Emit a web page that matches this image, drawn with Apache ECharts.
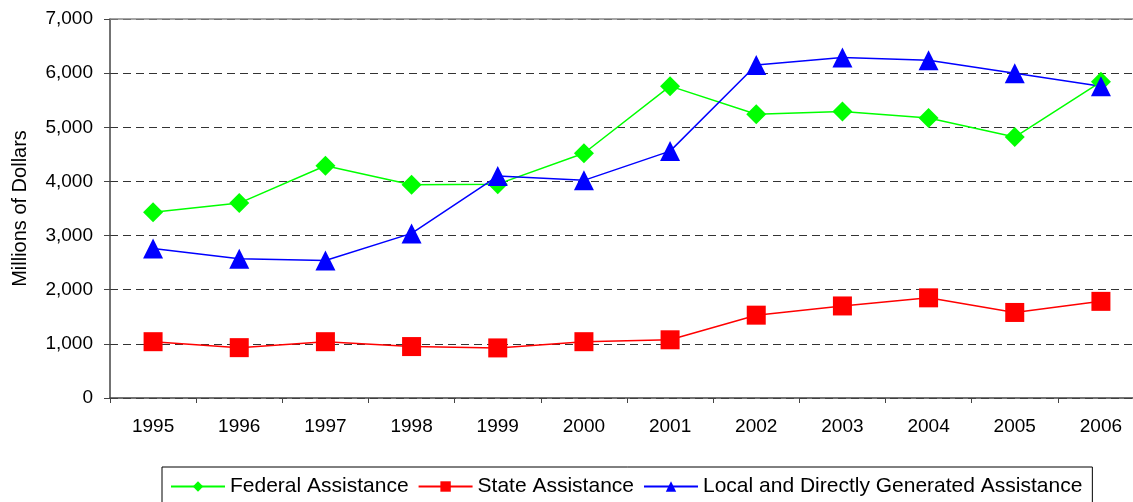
<!DOCTYPE html>
<html>
<head>
<meta charset="utf-8">
<script src="https://cdn.jsdelivr.net/npm/echarts@6/dist/echarts.min.js"></script>
<style>
  html, body { margin: 0; padding: 0; background: #fff; }
  #chart { width: 1133px; height: 502px; }
</style>
</head>
<body>
<div id="chart"></div>
<script>
const years = ["1995", "1996", "1997", "1998", "1999", "2000", "2001", "2002", "2003", "2004", "2005", "2006"];
const federal = [3430, 3600, 4290, 3940, 3950, 4520, 5760, 5240, 5290, 5170, 4820, 5840];
const state = [1040, 930, 1040, 950, 925, 1040, 1075, 1530, 1700, 1850, 1580, 1785];
const local = [2760, 2570, 2540, 3040, 4100, 4020, 4560, 6150, 6290, 6240, 6000, 5760];

const font = "Liberation Sans, Arial, sans-serif";

const option = {
  animation: false,
  backgroundColor: "#fff",
  textStyle: { fontFamily: font },
  grid: {
    left: 110,
    width: 1034,
    top: 19,
    bottom: 104,
    outerBoundsMode: "none",
    containLabel: false,
  },
  legend: {
    left: 162,
    top: 467,
    padding: [9, 10, 14, 8],
    borderColor: "#000",
    borderWidth: 1,
    itemWidth: 54,
    itemHeight: 13,
    itemGap: 9,
    textStyle: { fontFamily: font, fontSize: 21, color: "#000" },
    data: ["Federal Assistance", "State Assistance", "Local and Directly Generated Assistance"],
  },
  xAxis: [
    {
      type: "category",
      data: years,
      boundaryGap: true,
      axisLine: { lineStyle: { color: "#444", width: 1.5 } },
      axisTick: { show: true, length: 5, lineStyle: { color: "#444" } },
      axisLabel: { fontFamily: font, fontSize: 19, color: "#000", margin: 19 },
    },
    {
      type: "category",
      position: "top",
      data: years,
      axisLine: { lineStyle: { color: "#888", width: 1.5 } },
      axisTick: { show: false },
      axisLabel: { show: false },
    },
  ],
  yAxis: {
    type: "value",
    min: 0,
    max: 7000,
    interval: 1000,
    name: "Millions of Dollars",
    nameLocation: "middle",
    nameGap: 80,
    nameRotate: 90,
    nameTextStyle: { fontFamily: font, fontSize: 20, color: "#000" },
    axisLine: { show: true, lineStyle: { color: "#444", width: 1.5 } },
    axisTick: { show: true, length: 6, lineStyle: { color: "#444" } },
    axisLabel: {
      fontFamily: font,
      fontSize: 19,
      color: "#000",
      margin: 17,
      formatter: (v) => v.toLocaleString("en-US"),
    },
    splitLine: {
      show: true,
      lineStyle: { color: "#333", type: [8, 5], width: 1 },
    },
  },
  series: [
    {
      name: "Federal Assistance",
      type: "line",
      data: federal,
      symbol: "diamond",
      symbolSize: 20,
      color: "#00ff00",
      lineStyle: { color: "#00ff00", width: 1.5 },
      itemStyle: { color: "#00ff00" },
    },
    {
      name: "State Assistance",
      type: "line",
      data: state,
      symbol: "rect",
      symbolSize: 19,
      color: "#ff0000",
      lineStyle: { color: "#ff0000", width: 1.5 },
      itemStyle: { color: "#ff0000" },
    },
    {
      name: "Local and Directly Generated Assistance",
      type: "line",
      data: local,
      symbol: "triangle",
      symbolSize: [20, 20],
      color: "#0000ff",
      lineStyle: { color: "#0000ff", width: 1.5 },
      itemStyle: { color: "#0000ff" },
    },
  ],
};

const chart = echarts.init(document.getElementById("chart"));
chart.setOption(option);
</script>
</body>
</html>
